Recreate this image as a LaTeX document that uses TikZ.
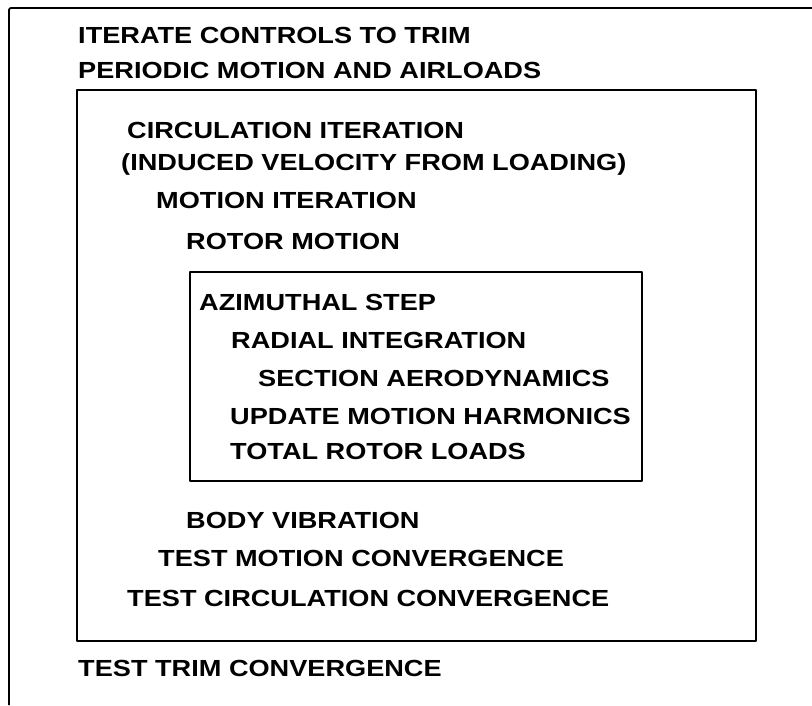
\documentclass[tikz,border=0pt]{standalone}
\usepackage{fontspec}
\setmainfont{Liberation Sans}
\usepackage{tikz}

\begin{document}
\begin{tikzpicture}[x=1pt, y=-1pt, line join=round,
    step label/.style={anchor=base west, inner sep=0pt,
        font=\fontsize{23.3}{28}\selectfont\bfseries,
        xscale=1.165, transform shape},
    frame line/.style={line width=1.8pt}]

    % page is 812 x 705, y runs downwards
    \useasboundingbox (0, 0) rectangle (812, 705);

    % Outer loop: open frame (top and left edges only)
    \draw[frame line, rounded corners=2pt] (812, 8) -- (9, 8) -- (9, 705);

    % Circulation loop and azimuth loop boxes
    \draw[frame line] (77, 90) rectangle (756, 641);
    \draw[line width=1.5pt] (190, 272) rectangle (642, 481);

    % Trim loop
    \node[step label] (trim)    at (78, 43)  {ITERATE CONTROLS TO TRIM};
    \node[step label] (airload) at (78, 78)  {PERIODIC MOTION AND AIRLOADS};

    % Circulation and motion iterations
    \node[step label] (circ)    at (127, 138) {CIRCULATION ITERATION};
    \node[step label] (induced) at (121, 170) {(INDUCED VELOCITY FROM LOADING)};
    \node[step label] (motit)   at (156, 208) {MOTION ITERATION};
    \node[step label] (rotor)   at (186, 249) {ROTOR MOTION};

    % Azimuthal step box
    \node[step label] (azim)    at (199, 310) {AZIMUTHAL STEP};
    \node[step label] (radial)  at (231, 348) {RADIAL INTEGRATION};
    \node[step label] (aero)    at (258, 386) {SECTION AERODYNAMICS};
    \node[step label] (harm)    at (230, 424) {UPDATE MOTION HARMONICS};
    \node[step label] (loads)   at (230, 459) {TOTAL ROTOR LOADS};

    % Convergence tests
    \node[step label] (body)    at (186, 528) {BODY VIBRATION};
    \node[step label] (tmotion) at (158, 566) {TEST MOTION CONVERGENCE};
    \node[step label] (tcirc)   at (127, 606) {TEST CIRCULATION CONVERGENCE};
    \node[step label] (ttrim)   at (78, 676)  {TEST TRIM CONVERGENCE};

\end{tikzpicture}
\end{document}
